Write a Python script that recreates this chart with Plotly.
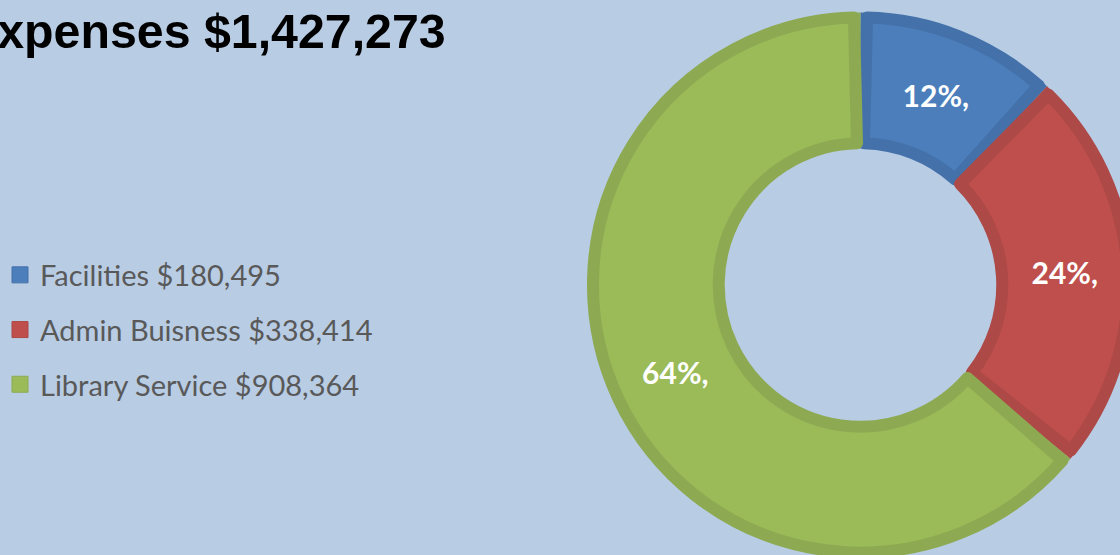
import plotly.graph_objects as go

# figure is a little larger than the 1120x555 window so the donut can run off the edge
W, H = 1140, 560

# ---- data ----
categories = ["Facilities", "Admin Buisness", "Library Service"]
amounts = ["$180,495", "$338,414", "$908,364"]
shares = [12, 24, 64]                  # slice sizes (percent)
pct_labels = ["12%,", "24%,", "64%,"]  # slice labels as shown
title_text = "Expenses $1,427,273"

fill_colors = ["#4B7EBA", "#BE4F4C", "#9BBB59"]
edge_colors = ["#4471A9", "#AD4946", "#8DAA52"]
bg = "#B8CCE4"
clear = "rgba(0,0,0,0)"


def dom(x0, x1, y0, y1):
    """pixel box (from top-left) -> paper domain"""
    return dict(x=[x0 / W, x1 / W], y=[1 - y1 / H, 1 - y0 / H])


cx, cy = 860, 285
R_out, R_in = 273, 137          # outer / hole radius of the ring (px)
edge_w = 12                     # stroke of the inner (light) face
R2, h2 = 268, 142               # geometry of the light face
gap = 0.39                      # angular inset of the light face (share units)

fig = go.Figure()

# layer 1: darker rim of each slice
fig.add_trace(go.Pie(
    labels=categories, values=shares,
    textinfo="none", hole=R_in / R_out,
    sort=False, direction="clockwise", rotation=0,
    marker=dict(colors=edge_colors, line=dict(width=0)),
    domain=dom(cx - R_out, cx + R_out, cy - R_out, cy + R_out),
    showlegend=False, hoverinfo="skip",
))

# layer 2: lighter face of each slice, inset from the rim
face_vals, face_cols, face_lines, face_lw, face_text = [], [], [], [], []
for s, fc, ec, t in zip(shares, fill_colors, edge_colors, pct_labels):
    face_vals += [gap, s - 2 * gap, gap]
    face_cols += [clear, fc, clear]
    face_lines += [clear, ec, clear]
    face_lw += [0, edge_w, 0]
    face_text += ["", t, ""]

fig.add_trace(go.Pie(
    values=face_vals,
    labels=[f"s{i}" for i in range(len(face_vals))],
    text=face_text,
    textinfo="text",
    textposition="inside",
    insidetextorientation="horizontal",
    textfont=dict(family="Lato", size=30, color="white", weight="bold"),
    hole=h2 / R2,
    sort=False, direction="clockwise", rotation=0,
    marker=dict(colors=face_cols, line=dict(color=face_lines, width=face_lw)),
    domain=dom(cx - R2, cx + R2, cy - R2, cy + R2),
    showlegend=False, hoverinfo="skip",
))

# legend entries
for i, (cat, amt) in enumerate(zip(categories, amounts)):
    fig.add_trace(go.Scatter(
        x=[None], y=[None],
        mode="markers",
        name=f"{cat} {amt}",
        legendgroup=f"g{i}",
        marker=dict(symbol="square", size=16, color=fill_colors[i],
                    line=dict(color=edge_colors[i], width=1)),
        showlegend=True,
    ))

fig.add_annotation(
    text=f"<b>{title_text}</b>",
    xref="paper", yref="paper",
    x=447 / W, y=1 - 31 / H,
    xanchor="right", yanchor="middle",
    showarrow=False,
    font=dict(family="Liberation Sans, Arial", size=48.3, color="black"),
)

fig.update_layout(
    width=W, height=H,
    margin=dict(l=0, r=0, t=0, b=0),
    paper_bgcolor=bg,
    plot_bgcolor=clear,
    xaxis=dict(visible=False),
    yaxis=dict(visible=False),
    legend=dict(
        x=-2 / W, y=1 - 249.5 / H, xanchor="left", yanchor="top",
        font=dict(family="Lato", size=29, color="#595959"),
        tracegroupgap=14,
        bgcolor=clear,
        itemclick=False, itemdoubleclick=False,
    ),
)

fig.write_html(
    "out.html",
    config={"displayModeBar": False},
    post_script="document.body.style.margin='0';"
                "document.body.style.overflow='hidden';"
                "document.documentElement.style.overflow='hidden';",
)
